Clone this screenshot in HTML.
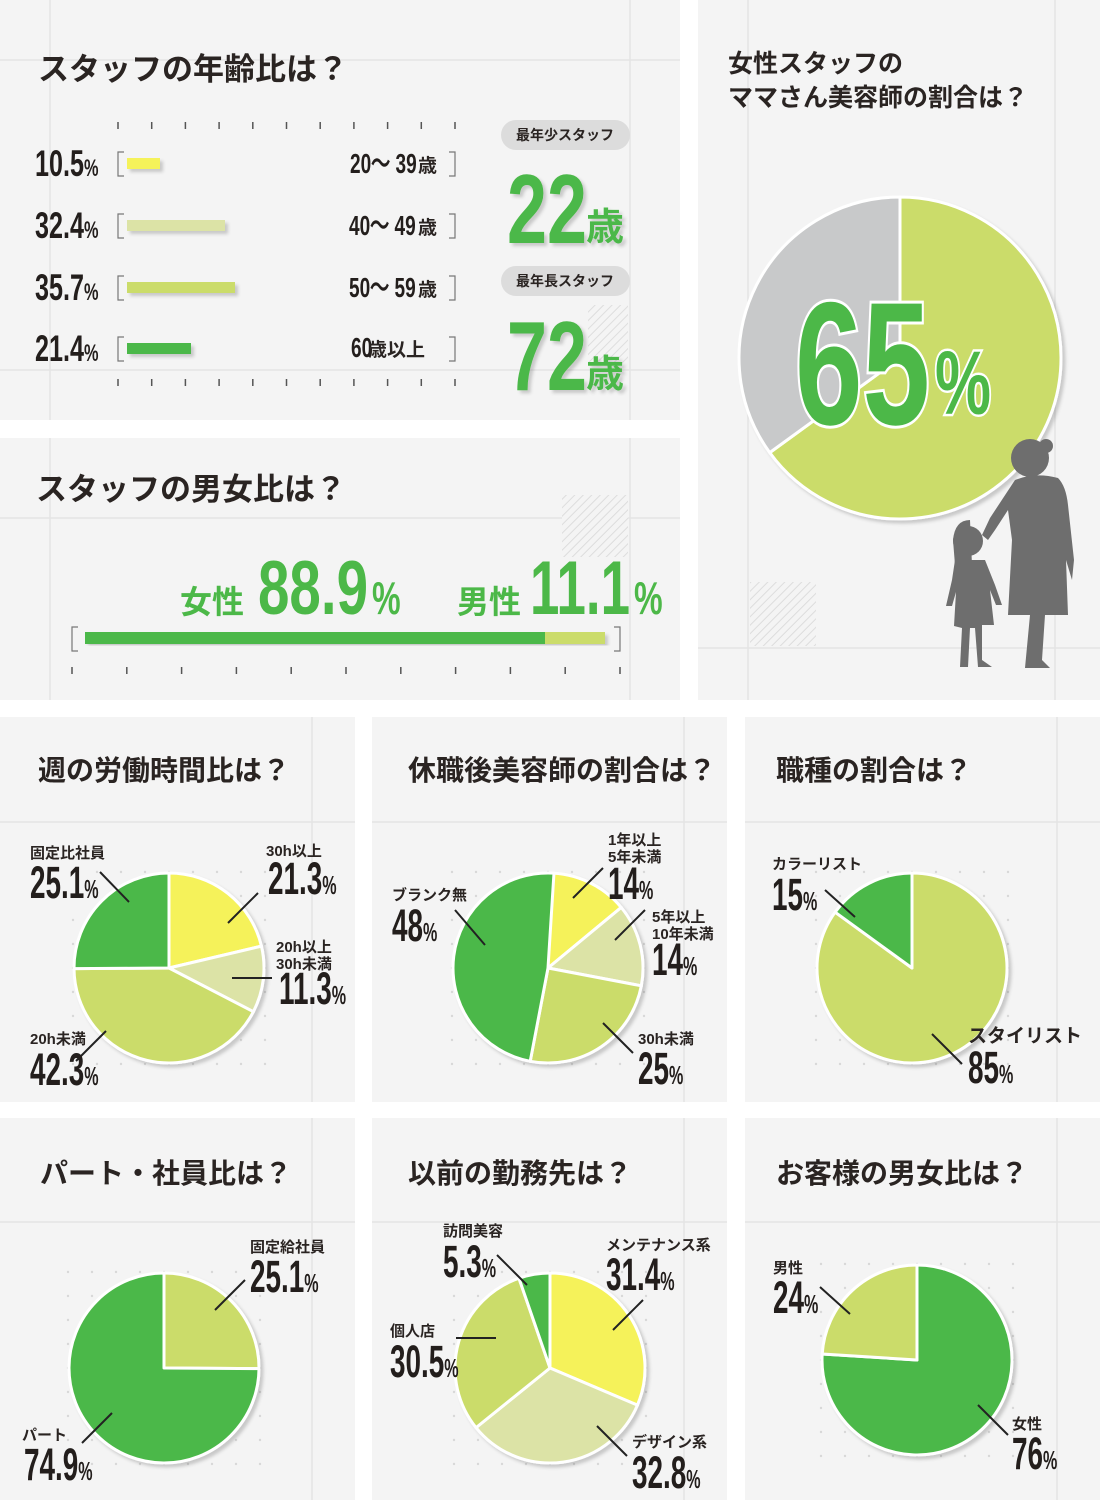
<!DOCTYPE html>
<html><head><meta charset="utf-8">
<style>
html,body{margin:0;padding:0;background:#fff}
svg{display:block}
.t{font-family:"Liberation Sans","Noto Sans CJK JP",sans-serif;font-weight:bold;fill:#2a2422}
.n{font-family:"Liberation Sans",sans-serif;font-weight:bold;fill:#231e1c}
</style></head>
<body>
<svg id="s" width="1100" height="1500" viewBox="0 0 1100 1500" xmlns="http://www.w3.org/2000/svg">
<defs>
<pattern id="h" width="6" height="6" patternUnits="userSpaceOnUse" patternTransform="rotate(45)"><rect width="6" height="6" fill="#f4f4f4"/><line x1="0" y1="0" x2="0" y2="6" stroke="#ddd" stroke-width="2"/></pattern>
<filter id="sh"><feDropShadow dx="3" dy="3" stdDeviation="1.5" flood-color="#000" flood-opacity="0.18"/></filter>
</defs>
<g fill="#f4f4f4">
<rect x="0" y="0" width="680" height="420"/>
<rect x="0" y="438" width="680" height="262"/>
<rect x="698" y="0" width="402" height="700"/>
<rect x="0" y="717" width="355" height="385"/><rect x="372" y="717" width="355" height="385"/><rect x="745" y="717" width="355" height="385"/>
<rect x="0" y="1118" width="355" height="382"/><rect x="372" y="1118" width="355" height="382"/><rect x="745" y="1118" width="355" height="382"/>
</g>
<g stroke="#e4e4e4" stroke-width="1.5">
<line x1="0" y1="60" x2="680" y2="60"/><line x1="0" y1="370" x2="680" y2="370"/><line x1="50" y1="0" x2="50" y2="420"/><line x1="630" y1="0" x2="630" y2="420"/>
<line x1="0" y1="518" x2="680" y2="518"/><line x1="50" y1="438" x2="50" y2="700"/><line x1="630" y1="438" x2="630" y2="700"/>
<line x1="748" y1="0" x2="748" y2="700"/><line x1="1055" y1="0" x2="1055" y2="700"/><line x1="698" y1="648" x2="1100" y2="648"/>
<line x1="0" y1="822" x2="355" y2="822"/><line x1="372" y1="822" x2="727" y2="822"/><line x1="745" y1="822" x2="1100" y2="822"/>
<line x1="312" y1="717" x2="312" y2="1102"/><line x1="684" y1="717" x2="684" y2="1102"/><line x1="1057" y1="717" x2="1057" y2="1102"/>
<line x1="0" y1="1222" x2="355" y2="1222"/><line x1="372" y1="1222" x2="727" y2="1222"/><line x1="745" y1="1222" x2="1100" y2="1222"/>
<line x1="312" y1="1118" x2="312" y2="1500"/><line x1="684" y1="1118" x2="684" y2="1500"/><line x1="1057" y1="1118" x2="1057" y2="1500"/>
</g>
<rect x="588" y="305" width="40" height="60" fill="url(#h)"/>
<rect x="562" y="495" width="66" height="62" fill="url(#h)"/>
<rect x="750" y="582" width="66" height="64" fill="url(#h)"/>

<text class="t" x="38" y="80" font-size="31">スタッフの年齢比は？</text>
<g id="ticks" stroke="#555" stroke-width="1.5"></g>
<g stroke="#777" stroke-width="1.2" fill="none">
<path d="M124 152h-6v24h6M124 214h-6v24h6M124 276h-6v24h6M124 337h-6v24h6"/>
<path d="M449 152h6v24h-6M449 214h6v24h-6M449 276h6v24h-6M449 337h6v24h-6"/>
</g>
<g filter="url(#sh)">
<rect x="127" y="158" width="33" height="11" fill="#f5f25a"/>
<rect x="127" y="220" width="98" height="11" fill="#dce3a6"/>
<rect x="127" y="282" width="108" height="11" fill="#cbdc6a"/>
<rect x="127" y="343" width="64" height="11" fill="#4cb848"/>
</g>
<g class="n" font-size="37">
<text transform="translate(35 176) scale(.68 1)">10.5<tspan font-size="24">%</tspan></text>
<text transform="translate(35 238) scale(.68 1)">32.4<tspan font-size="24">%</tspan></text>
<text transform="translate(35 300) scale(.68 1)">35.7<tspan font-size="24">%</tspan></text>
<text transform="translate(35 361) scale(.68 1)">21.4<tspan font-size="24">%</tspan></text>
</g>
<g class="n" font-size="28">
<text transform="translate(350 173) scale(.68 1)">20～ 39</text>
<text transform="translate(349 235) scale(.68 1)">40～ 49</text>
<text transform="translate(349 297) scale(.68 1)">50～ 59</text>
<text transform="translate(351 357) scale(.68 1)">60</text>
</g>
<g class="t" font-size="19">
<text x="418" y="172">歳</text><text x="418" y="234">歳</text><text x="418" y="296">歳</text><text x="368" y="356">歳以上</text>
</g>
<rect x="501" y="120" width="129" height="30" rx="15" fill="#dcdcdc"/>
<rect x="501" y="266" width="129" height="30" rx="15" fill="#dcdcdc"/>
<text class="t" x="565" y="140" font-size="14" text-anchor="middle" font-weight="normal">最年少スタッフ</text>
<text class="t" x="565" y="286" font-size="14" text-anchor="middle" font-weight="normal">最年長スタッフ</text>
<g filter="url(#sh)">
<text class="n" x="507" y="243" font-size="98" style="fill:#4cb848" textLength="80" lengthAdjust="spacingAndGlyphs">22</text>
<text class="t" x="586" y="240" font-size="38" style="fill:#4cb848">歳</text>
<text class="n" x="507" y="390" font-size="98" style="fill:#4cb848" textLength="80" lengthAdjust="spacingAndGlyphs">72</text>
<text class="t" x="586" y="387" font-size="38" style="fill:#4cb848">歳</text>
</g>

<text class="t" x="36" y="500" font-size="31">スタッフの男女比は？</text>
<text class="t" x="180" y="613" font-size="32" style="fill:#4cb848">女性</text>
<text class="n" x="258" y="614" font-size="76" style="fill:#4cb848" textLength="110" lengthAdjust="spacingAndGlyphs">88.9</text>
<text class="n" transform="translate(372 614) scale(.7 1)" font-size="46" style="fill:#4cb848">%</text>
<text class="t" x="457" y="613" font-size="32" style="fill:#4cb848">男性</text>
<text class="n" x="530" y="614" font-size="76" style="fill:#4cb848" textLength="100" lengthAdjust="spacingAndGlyphs">11.1</text>
<text class="n" transform="translate(634 614) scale(.7 1)" font-size="46" style="fill:#4cb848">%</text>
<g stroke="#777" stroke-width="1.2" fill="none"><path d="M78 627h-6v24h6M614 627h6v24h-6"/></g>
<g filter="url(#sh)"><rect x="85" y="632" width="460" height="12" fill="#4cb848"/><rect x="545" y="632" width="60" height="12" fill="#cbdc6a"/></g>
<g id="ticks2" stroke="#555" stroke-width="1.5"></g>

<text class="t" x="728" y="72" font-size="25">女性スタッフの</text>
<text class="t" x="728" y="106" font-size="25">ママさん美容師の割合は？</text>
<g id="pies"></g>
<text x="795" y="424" font-family="Liberation Sans,sans-serif" font-weight="bold" font-size="175" fill="#4cb848" stroke="#fff" stroke-width="6" paint-order="stroke" textLength="135" lengthAdjust="spacingAndGlyphs">65</text>
<text transform="translate(935 414) scale(.7 1)" font-family="Liberation Sans,sans-serif" font-weight="bold" font-size="90" fill="#4cb848" stroke="#fff" stroke-width="5" paint-order="stroke">%</text>
<g fill="#6e6e6e">
<circle cx="1030" cy="458" r="19"/><circle cx="1046" cy="446" r="7"/>
<path d="M1015 480 Q1035 472 1058 478 Q1066 486 1068 505 L1074 560 L1072 580 L1066 560 L1068 615 L1045 615 L1042 660 L1050 668 L1025 668 L1030 615 L1008 615 L1012 540 L1008 510 L995 530 L988 540 L982 535 L990 518 Z"/>
<circle cx="968" cy="541" r="15"/><path d="M953 540 Q955 520 970 520 L972 565 L955 565 Z"/>
<path d="M955 560 L985 560 L995 585 L1002 605 L996 605 L990 590 L994 625 L982 625 L982 660 L992 667 L978 667 L975 628 L970 628 L968 667 L960 667 L962 628 L954 626 L956 592 L952 606 L946 606 L952 580 Z"/>
</g>

<g class="t" font-size="28">
<text x="38" y="780">週の労働時間比は？</text>
<text x="408" y="780">休職後美容師の割合は？</text>
<text x="776" y="780">職種の割合は？</text>
<text x="40" y="1183">パート・社員比は？</text>
<text x="408" y="1183">以前の勤務先は？</text>
<text x="776" y="1183">お客様の男女比は？</text>
</g>
<g id="dots" fill="#d8d8d8"></g>
<g id="pies2"></g>
<g stroke="#222" stroke-width="2" fill="none">
<path d="M100 872l29 30M258 893l-30 30M272 978h-40M106 1031l-30 30"/>
<path d="M603 868l-30 30M645 910l-30 30M455 910l30 35M603 1023l30 30"/>
<path d="M825 890l30 27M932 1034l30 30"/>
<path d="M245 1280l-30 30M112 1413l-30 30"/>
<path d="M497 1255l30 30M643 1300l-30 30M456 1338h40M597 1426l30 30"/>
<path d="M820 1287l30 27M978 1405l30 30"/>
</g>
<g class="t" font-size="15">
<text x="30" y="858">固定比社員</text><text x="266" y="856">30h以上</text>
<text x="276" y="952">20h以上</text><text x="276" y="969">30h未満</text><text x="30" y="1044">20h未満</text>
<text x="608" y="845">1年以上</text><text x="608" y="862">5年未満</text>
<text x="652" y="922">5年以上</text><text x="652" y="939">10年未満</text>
<text x="392" y="900">ブランク無</text><text x="638" y="1044">30h未満</text>
<text x="772" y="869">カラーリスト</text><text x="968" y="1042" font-size="19">スタイリスト</text>
<text x="250" y="1252">固定給社員</text><text x="22" y="1440">パート</text>
<text x="443" y="1236">訪問美容</text><text x="606" y="1250">メンテナンス系</text>
<text x="390" y="1336">個人店</text><text x="632" y="1447">デザイン系</text>
<text x="773" y="1273">男性</text><text x="1012" y="1429">女性</text>
</g>
<g class="n" font-size="45">
<text transform="translate(30 898) scale(.62 1)">25.1<tspan font-size="26">%</tspan></text>
<text transform="translate(268 894) scale(.62 1)">21.3<tspan font-size="26">%</tspan></text>
<text transform="translate(279 1004) scale(.62 1)">11.3<tspan font-size="26">%</tspan></text>
<text transform="translate(30 1085) scale(.62 1)">42.3<tspan font-size="26">%</tspan></text>
<text transform="translate(608 899) scale(.62 1)">14<tspan font-size="26">%</tspan></text>
<text transform="translate(652 975) scale(.62 1)">14<tspan font-size="26">%</tspan></text>
<text transform="translate(392 941) scale(.62 1)">48<tspan font-size="26">%</tspan></text>
<text transform="translate(638 1084) scale(.62 1)">25<tspan font-size="26">%</tspan></text>
<text transform="translate(772 910) scale(.62 1)">15<tspan font-size="26">%</tspan></text>
<text transform="translate(968 1083) scale(.62 1)">85<tspan font-size="26">%</tspan></text>
<text transform="translate(250 1292) scale(.62 1)">25.1<tspan font-size="26">%</tspan></text>
<text transform="translate(24 1480) scale(.62 1)">74.9<tspan font-size="26">%</tspan></text>
<text transform="translate(443 1277) scale(.62 1)">5.3<tspan font-size="26">%</tspan></text>
<text transform="translate(606 1290) scale(.62 1)">31.4<tspan font-size="26">%</tspan></text>
<text transform="translate(390 1377) scale(.62 1)">30.5<tspan font-size="26">%</tspan></text>
<text transform="translate(632 1488) scale(.62 1)">32.8<tspan font-size="26">%</tspan></text>
<text transform="translate(773 1313) scale(.62 1)">24<tspan font-size="26">%</tspan></text>
<text transform="translate(1012 1469) scale(.62 1)">76<tspan font-size="26">%</tspan></text>
</g>
</svg>
<script>
var NS="http://www.w3.org/2000/svg";
function el(p,t,a){var e=document.createElementNS(NS,t);for(var k in a)e.setAttribute(k,a[k]);p.appendChild(e);return e;}
var tk=document.getElementById('ticks');
for(var i=0;i<11;i++){var x=118+i*33.7;el(tk,'line',{x1:x,y1:122,x2:x,y2:129});el(tk,'line',{x1:x,y1:379,x2:x,y2:386});}
var tk2=document.getElementById('ticks2');
for(var i=0;i<11;i++){var x=72+i*54.8;el(tk2,'line',{x1:x,y1:667,x2:x,y2:674});}
var Y='#f5f25a',P='#dce3a6',L='#cbdc6a',G='#4cb848';
function pie(g,cx,cy,r,sl,start,sw){
 var gg=el(g,'g',{filter:'url(#sh)'});
 var a=(start||0)*Math.PI/180;
 sl.forEach(function(s){var b=a+s[0]/100*2*Math.PI;
  var x1=cx+r*Math.sin(a),y1=cy-r*Math.cos(a),x2=cx+r*Math.sin(b),y2=cy-r*Math.cos(b);
  var lg=(b-a)>Math.PI?1:0;
  el(gg,'path',{d:'M'+cx+' '+cy+'L'+x1+' '+y1+'A'+r+' '+r+' 0 '+lg+' 1 '+x2+' '+y2+'Z',fill:s[1],stroke:'#fff','stroke-width':sw||3,'stroke-linejoin':'round'});
  a=b;});
}
var dg=document.getElementById('dots');
[[169,968],[548,968],[912,968],[164,1368],[550,1368],[917,1360]].forEach(function(c){
 for(var i=-4;i<=4;i++)for(var j=-4;j<=4;j++){el(dg,'circle',{cx:c[0]+i*24,cy:c[1]+j*24,r:1.2});}
});
pie(document.getElementById('pies'),900,358,161,[[65,L],[35,'#c8c9ca']],0,3);
var p2=document.getElementById('pies2');
pie(p2,169,968,95,[[21.3,Y],[11.3,P],[42.3,L],[25.1,G]]);
pie(p2,548,968,95,[[14,Y],[14,P],[25,L],[48,G]]);
pie(p2,912,968,95,[[85,L],[15,G]]);
pie(p2,164,1368,95,[[25.1,L],[74.9,G]]);
pie(p2,550,1368,95,[[31.4,Y],[32.8,P],[30.5,L],[5.3,G]]);
pie(p2,917,1360,95,[[76,G],[24,L]]);
</script>
</body></html>
